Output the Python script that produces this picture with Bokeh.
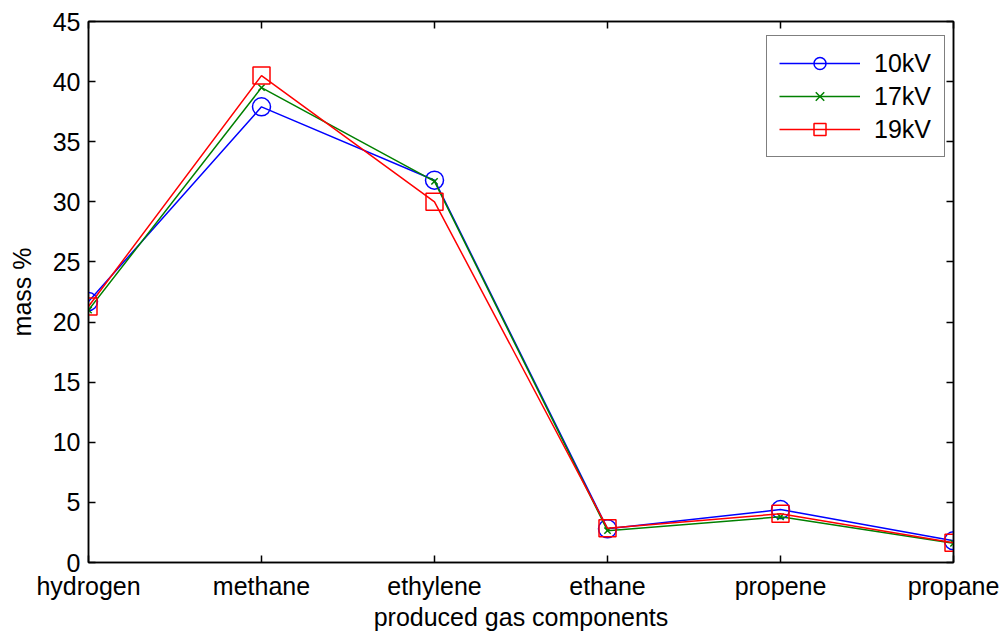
from bokeh.plotting import figure
from bokeh.models import Legend, LegendItem, LinearAxis, FixedTicker, Range1d
from bokeh.embed import file_html
from bokeh.resources import INLINE

components = ["hydrogen", "methane", "ethylene", "ethane", "propene", "propane"]
kv10 = [21.7, 37.9, 31.8, 2.8, 4.4, 1.8]
kv17 = [21.0, 39.5, 31.7, 2.65, 3.8, 1.6]
kv19 = [21.3, 40.5, 30.0, 2.85, 4.05, 1.65]
series_names = ["10kV", "17kV", "19kV"]
y_ticks = [0, 5, 10, 15, 20, 25, 30, 35, 40, 45]

xs = list(range(1, len(components) + 1))
FONT = "Liberation Sans"
FS = "25px"

p = figure(width=1002, height=633, output_backend="svg", toolbar_location=None,
           x_range=Range1d(1, len(components)), y_range=Range1d(0, 45),
           min_border_left=88, min_border_right=49, min_border_top=21, min_border_bottom=71)
p.xgrid.visible = False
p.ygrid.visible = False
p.outline_line_color = "black"
p.outline_line_width = 1.5

xt = FixedTicker(ticks=xs)
yt = FixedTicker(ticks=y_ticks)

def style(ax):
    ax.axis_line_color = "black"
    ax.axis_line_width = 1.5
    ax.major_tick_in = 7
    ax.major_tick_out = 0
    ax.major_tick_line_width = 1.5
    ax.minor_tick_line_color = None
    ax.major_label_text_font = FONT
    ax.major_label_text_font_size = FS
    ax.major_label_text_color = "black"
    ax.axis_label_text_font = FONT
    ax.axis_label_text_font_size = FS
    ax.axis_label_text_font_style = "normal"
    ax.axis_label_text_color = "black"

xa = p.xaxis[0]
xa.ticker = xt
xa.major_label_overrides = {x: c for x, c in zip(xs, components)}
xa.axis_label = "produced gas components"
style(xa)
xa.major_label_standoff = 9
xa.axis_label_standoff = 0

ya = p.yaxis[0]
ya.ticker = yt
ya.axis_label = "mass %"
style(ya)
ya.major_label_standoff = 8
ya.axis_label_standoff = 14

for loc, tk in (("above", xt), ("right", yt)):
    ax = LinearAxis(ticker=tk)
    style(ax)
    ax.major_label_text_color = None
    ax.major_label_standoff = 0
    p.add_layout(ax, loc)

colors = ["#0000FF", "#008000", "#FF0000"]
items = []
for name, vals, col, mk in zip(series_names, [kv10, kv17, kv19], colors, ["circle", "x", "square"]):
    ln = p.line(xs, vals, line_color=col, line_width=1.5)
    if mk == "circle":
        m = p.scatter(xs, vals, marker="circle", size=18, line_color=col, fill_color=None, line_width=1.5)
    elif mk == "x":
        m = p.scatter(xs, vals, marker="x", size=9, line_color=col, line_width=1.5)
    else:
        m = p.scatter(xs, vals, marker="square", size=17, line_color=col, fill_color=None, line_width=1.5)
    items.append(LegendItem(label=name, renderers=[ln, m]))

legend = Legend(items=items, location=(678, 405), margin=0, padding=12,
                spacing=3, glyph_width=81, glyph_height=30, label_height=30,
                label_width=58, label_standoff=14,
                label_text_font=FONT, label_text_font_size=FS, label_text_color="black",
                border_line_color="black", border_line_width=1.5,
                background_fill_color="white", background_fill_alpha=1.0)
p.add_layout(legend)

open("out.html", "w").write(file_html(p, INLINE))
